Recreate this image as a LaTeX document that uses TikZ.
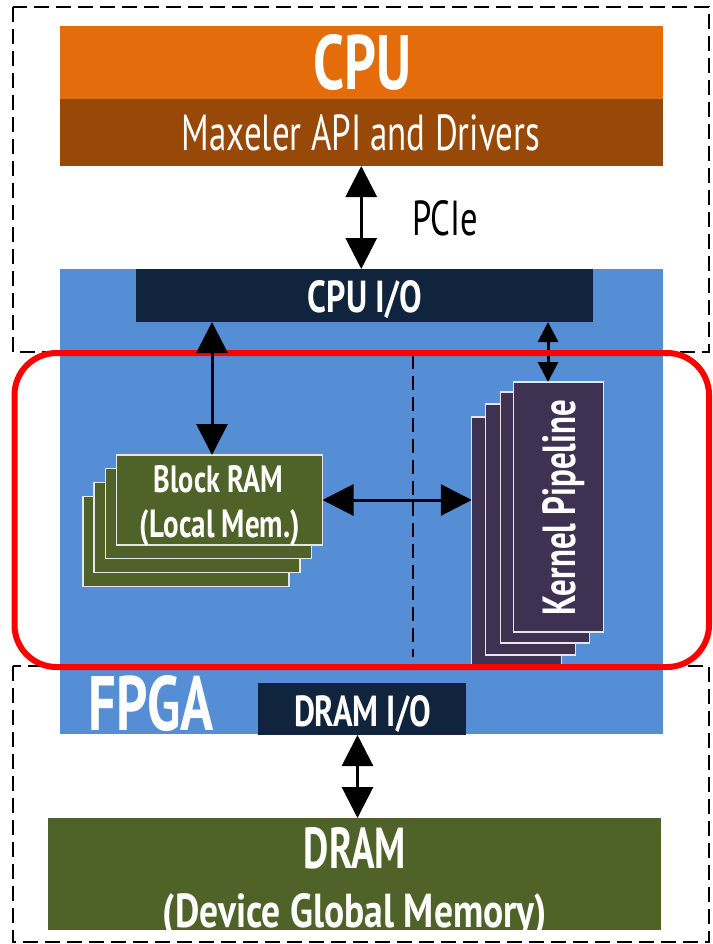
\documentclass[tikz,border=0pt]{standalone}
\usepackage{fontspec}
\usepackage{graphicx}
\setmainfont{PT Sans}
\usetikzlibrary{arrows.meta}

\definecolor{cpuorange}{HTML}{E46C0A}
\definecolor{drvbrown}{HTML}{984807}
\definecolor{fpgablue}{HTML}{558ED5}
\definecolor{ionavy}{HTML}{10243E}
\definecolor{memgreen}{HTML}{4F6228}
\definecolor{kernpurple}{HTML}{3F3151}
\definecolor{stackedge}{HTML}{E6E6E6}

% text squeezed to a given width and height (in pt)
\newcommand\fitt[3]{\resizebox{#1pt}{#2pt}{#3}}

\begin{document}
\begin{tikzpicture}[x=1pt,y=-1pt,
  plain/.style={draw=none, inner sep=0pt, outer sep=0pt},
  stackbox/.style={draw=stackedge, line width=1.2pt, inner sep=0pt, outer sep=0pt},
  lbl/.style={inner sep=0pt, outer sep=0pt, text=white, anchor=base},
  region/.style={draw=black, line width=2.4pt, dash pattern=on 15pt off 7pt},
  dbl/.style={{Triangle[width=31pt,length=31pt]}-{Triangle[width=31pt,length=31pt]}, line width=3pt},
  dblsmall/.style={{Triangle[width=20pt,length=20pt]}-{Triangle[width=20pt,length=20pt]}, line width=3pt}
]
\useasboundingbox (0,0) rectangle (712,944);
\fill[white] (0,0) rectangle (712,944);

% dashed host and device-memory regions
\draw[region] (13,7) rectangle (709,352);
\draw[region] (13,666) rectangle (709,942);

% CPU side
\node[plain, fill=cpuorange, minimum width=603.5pt, minimum height=72.5pt] (cpu) at (361.25,62.75) {};
\node[plain, fill=drvbrown, minimum width=603.5pt, minimum height=67pt] (drv) at (361.25,132.5) {};
\node[lbl] (cputxt) at (362,90) {\fitt{98}{55}{\bfseries CPU}};
\node[lbl] (drvtxt) at (361,151) {\fitt{358}{36}{Maxeler API and Drivers}};

% FPGA board
\node[plain, fill=fpgablue, minimum width=603.5pt, minimum height=465pt] (fpga) at (361.25,501.5) {};
\node[plain, fill=ionavy, minimum width=457.5pt, minimum height=53pt] (cpuio) at (364.25,295.5) {};
\node[plain, fill=ionavy, minimum width=208pt, minimum height=52pt] (dramio) at (362,709) {};
\node[lbl] (cpuiotxt) at (365,312) {\fitt{114}{32}{\bfseries CPU I/O}};
\node[lbl] (dramiotxt) at (362.5,726) {\fitt{137}{31}{\bfseries DRAM I/O}};
\node[lbl] (fpgatxt) at (151,730) {\fitt{125}{55}{\bfseries FPGA}};

% PCIe link
\draw[dbl] (drv.south) -- (drv.south |- cpuio.north);
\node[lbl, text=black] (pcie) at (445,235) {\fitt{66}{35}{PCIe}};

% Block RAM stack
\node[stackbox, fill=memgreen, minimum width=206pt, minimum height=90pt] (bram4) at (186,541.5) {};
\node[stackbox, fill=memgreen, minimum width=206pt, minimum height=90pt] (bram3) at (197,527.5) {};
\node[stackbox, fill=memgreen, minimum width=206pt, minimum height=90pt] (bram2) at (208.5,513.5) {};
\node[stackbox, fill=memgreen, minimum width=206pt, minimum height=90pt] (bram1) at (219.5,500) {};
\node[lbl] (bramtxt1) at (218.5,492) {\fitt{129}{27}{\bfseries Block RAM}};
\node[lbl] (bramtxt2) at (220,537) {\fitt{160}{28}{\bfseries (Local Mem.)}};

% Kernel pipeline stack
\node[stackbox, fill=kernpurple, minimum width=89.5pt, minimum height=251pt] (kern4) at (516.5,542.5) {};
\node[stackbox, fill=kernpurple, minimum width=89.5pt, minimum height=251pt] (kern3) at (530.5,529.5) {};
\node[stackbox, fill=kernpurple, minimum width=89.5pt, minimum height=251pt] (kern2) at (545,517.5) {};
\node[stackbox, fill=kernpurple, minimum width=90pt, minimum height=250pt] (kern1) at (558.5,507) {};
\node[lbl, rotate=90] (kerntxt) at (575,507.5) {\fitt{215}{33}{\bfseries Kernel Pipeline}};

% divider between memory and compute
\coordinate (divtop) at (413,355);
\coordinate (divbot) at (413,657);
\draw[black, line width=1.8pt, dash pattern=on 14pt off 7pt] (divtop) -- (divbot);

% CPU I/O to kernel link
\draw[dblsmall] ([xshift=-10.5pt]kern1.north) -- ([xshift=-10.5pt]kern1.north |- cpuio.south);

% on-chip region outline
\draw[red, line width=6pt, rounded corners=42pt] (14.5,353) rectangle (709,667);

% remaining links
\draw[dbl] ([xshift=-7.5pt]bram1.north) -- ([xshift=-7.5pt]bram1.north |- cpuio.south);
\draw[dbl] (bram1.east) -- (bram1.east -| kern4.west);

% device memory
\node[plain, fill=memgreen, minimum width=613pt, minimum height=112pt] (dram) at (354.5,874) {};
\node[lbl] (dramtxt) at (355,868) {\fitt{102}{41}{\bfseries DRAM}};
\node[lbl] (dramtxt2) at (355,927) {\fitt{384}{34}{\bfseries (Device Global Memory)}};
\draw[dbl] ([xshift=-4.5pt]dramio.south) -- ([xshift=-4.5pt]dramio.south |- dram.north);
\end{tikzpicture}
\end{document}
